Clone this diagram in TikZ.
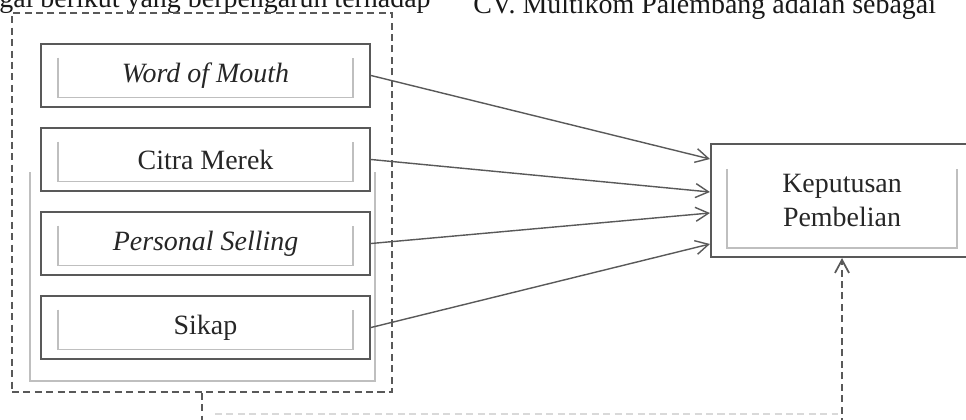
\documentclass[tikz,border=0pt]{standalone}
\usepackage{fontspec}
\setmainfont{Liberation Serif}
\usetikzlibrary{arrows.meta}

\begin{document}
\begin{tikzpicture}[x=0.02cm,y=-0.02cm,
		font=\fontsize{15.9pt}{18.8pt}\selectfont,
		kotak/.style={draw=black!65,line width=1.2pt,minimum width=6.58cm,minimum height=1.27cm,inner sep=0pt,text=black!85},
		kurung/.style={draw=black!25,line width=0.8pt},
		putus/.style={draw=black!65,line width=1pt,dash pattern=on 4pt off 2.5pt},
		panah/.style={draw=black!65,line width=0.8pt,-{Straight Barb[length=2.6mm,width=2.8mm]}}]
			\useasboundingbox (0,0) rectangle (966,419);
			\clip (0,0) rectangle (966,419);
			\node[anchor=base west,text=black!90,inner sep=0pt] (teks1) at (-1,8) {gai berikut yang berpengaruh terhadap};
			\node[anchor=base west,text=black!90,inner sep=0pt] (teks2) at (473,13) {CV. Multikom Palembang adalah sebagai};
			\node[putus,minimum width=7.6cm,minimum height=7.58cm] (kelompok) at (202,202.5) {};
			\draw[kurung] (30,172) |- (375,381) -- (375,172);
			\node[kotak] (wom) at (205.5,75.5) {\textit{Word of Mouth}};
			\node[kotak] (citra) at (205.5,159.5) {Citra Merek};
			\node[kotak] (ps) at (205.5,243.5) {\textit{Personal Selling}};
			\node[kotak] (sikap) at (205.5,327.5) {Sikap};
			\foreach \k in {wom,citra,ps,sikap}
				\draw[kurung] ([xshift=0.36cm,yshift=-0.3cm]\k.north west) |- ([xshift=-0.36cm,yshift=0.22cm]\k.south east) -- ([xshift=-0.36cm,yshift=-0.3cm]\k.north east);
			\node[kotak,minimum width=5.24cm,minimum height=2.26cm,align=center] (kep) at (842,200.5) {Keputusan\\Pembelian};
			\draw[kurung] ([xshift=0.34cm,yshift=-0.52cm]kep.north west) |- ([xshift=-0.34cm,yshift=0.2cm]kep.south east) -- ([xshift=-0.34cm,yshift=-0.52cm]kep.north east);
			\draw[panah] (wom.east) -- ([yshift=0.83cm]kep.west);
			\draw[panah] (citra.east) -- ([yshift=0.17cm]kep.west);
			\draw[panah] (ps.east) -- ([yshift=-0.25cm]kep.west);
			\draw[panah] (sikap.east) -- ([yshift=-0.87cm]kep.west);
			\coordinate (bawahkiri) at (202,425);
			\coordinate (bawahkanan) at (842,425);
			\draw[putus] (kelompok.south) -- (bawahkiri);
			\draw[putus,-{Straight Barb[length=2.6mm,width=2.8mm]}] (bawahkanan) -- (kep.south);
			\draw[draw=black!15,line width=1pt,dash pattern=on 4pt off 2.5pt] (215,414) -- (838,414);
		\end{tikzpicture}
\end{document}
